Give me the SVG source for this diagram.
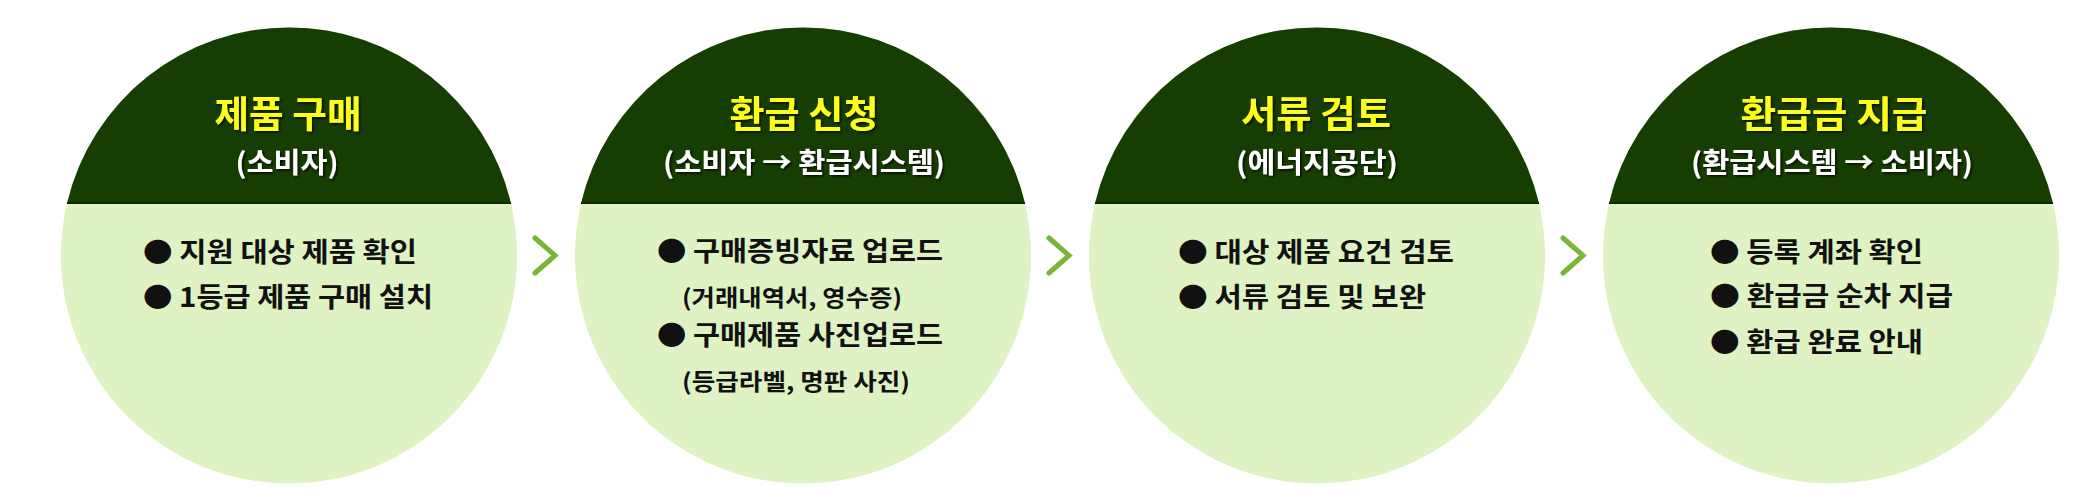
<svg xmlns="http://www.w3.org/2000/svg" width="2082" height="498" viewBox="0 0 2082 498">
<defs>
<style>
.body{fill:#def2c3}
.head{fill:#163d02}
.div{stroke:#0e2a01;stroke-width:2}
.t{font-family:"Noto Sans CJK KR","Noto Sans",sans-serif;font-weight:700;text-anchor:middle}
.title{fill:#ffff1a;font-size:37px;filter:url(#sh)}
.sub{fill:#ffffff;font-size:28px;filter:url(#sh)}
.b{font-family:"Noto Sans CJK KR","Noto Sans",sans-serif;font-weight:700;fill:#111;font-size:27px}
.s{font-size:23px}
.chev{fill:none;stroke:#79b636;stroke-width:5;stroke-linecap:round;stroke-linejoin:miter}
</style>
<filter id="sh" x="-10%" y="-30%" width="120%" height="160%">
<feDropShadow dx="1.5" dy="1.5" stdDeviation="0.8" flood-color="#000" flood-opacity="0.8"/>
</filter>
</defs>
<rect width="2082" height="498" fill="#fff"/>

<g id="node1">
<circle class="body" cx="289" cy="255.5" r="228"/>
<path class="head" d="M67.1,203 A228,228 0 0 1 510.9,203 Z"/>
<line class="div" x1="67" y1="203" x2="511" y2="203"/>
<text class="t title" x="288" y="128" textLength="147" lengthAdjust="spacingAndGlyphs">제품 구매</text>
<text class="t sub" x="287" y="173" textLength="103" lengthAdjust="spacingAndGlyphs">(소비자)</text>
<text class="b" x="143" y="262" textLength="274" lengthAdjust="spacingAndGlyphs">● 지원 대상 제품 확인</text>
<text class="b" x="143" y="307" textLength="290" lengthAdjust="spacingAndGlyphs">● 1등급 제품 구매 설치</text>
</g>

<g id="node2">
<circle class="body" cx="803" cy="255.5" r="228"/>
<path class="head" d="M581.1,203 A228,228 0 0 1 1024.9,203 Z"/>
<line class="div" x1="581" y1="203" x2="1025" y2="203"/>
<text class="t title" x="804" y="128" textLength="149" lengthAdjust="spacingAndGlyphs">환급 신청</text>
<text class="t sub" x="804" y="173" textLength="282" lengthAdjust="spacingAndGlyphs">(소비자 → 환급시스템)</text>
<text class="b" x="657" y="261" textLength="286" lengthAdjust="spacingAndGlyphs">● 구매증빙자료 업로드</text>
<text class="b s" x="682" y="306" textLength="220" lengthAdjust="spacingAndGlyphs">(거래내역서, 영수증)</text>
<text class="b" x="657" y="345" textLength="286" lengthAdjust="spacingAndGlyphs">● 구매제품 사진업로드</text>
<text class="b s" x="682" y="390" textLength="228" lengthAdjust="spacingAndGlyphs">(등급라벨, 명판 사진)</text>
</g>

<g id="node3">
<circle class="body" cx="1317" cy="255.5" r="228"/>
<path class="head" d="M1095.1,203 A228,228 0 0 1 1538.9,203 Z"/>
<line class="div" x1="1095" y1="203" x2="1539" y2="203"/>
<text class="t title" x="1316" y="128" textLength="150" lengthAdjust="spacingAndGlyphs">서류 검토</text>
<text class="t sub" x="1317" y="173" textLength="162" lengthAdjust="spacingAndGlyphs">(에너지공단)</text>
<text class="b" x="1178" y="262" textLength="276" lengthAdjust="spacingAndGlyphs">● 대상 제품 요건 검토</text>
<text class="b" x="1178" y="307" textLength="248" lengthAdjust="spacingAndGlyphs">● 서류 검토 및 보완</text>
</g>

<g id="node4">
<circle class="body" cx="1831" cy="255.5" r="228"/>
<path class="head" d="M1609.1,203 A228,228 0 0 1 2052.9,203 Z"/>
<line class="div" x1="1609" y1="203" x2="2053" y2="203"/>
<text class="t title" x="1834" y="128" textLength="187" lengthAdjust="spacingAndGlyphs">환급금 지급</text>
<text class="t sub" x="1832" y="173" textLength="282" lengthAdjust="spacingAndGlyphs">(환급시스템 → 소비자)</text>
<text class="b" x="1710" y="262" textLength="213" lengthAdjust="spacingAndGlyphs">● 등록 계좌 확인</text>
<text class="b" x="1710" y="306" textLength="243" lengthAdjust="spacingAndGlyphs">● 환급금 순차 지급</text>
<text class="b" x="1710" y="352" textLength="213" lengthAdjust="spacingAndGlyphs">● 환급 완료 안내</text>
</g>

<g id="connectors">
<polyline class="chev" points="535,238 555,255.5 535,273"/>
<polyline class="chev" points="1049,238 1069,255.5 1049,273"/>
<polyline class="chev" points="1563,238 1583,255.5 1563,273"/>
</g>
</svg>
